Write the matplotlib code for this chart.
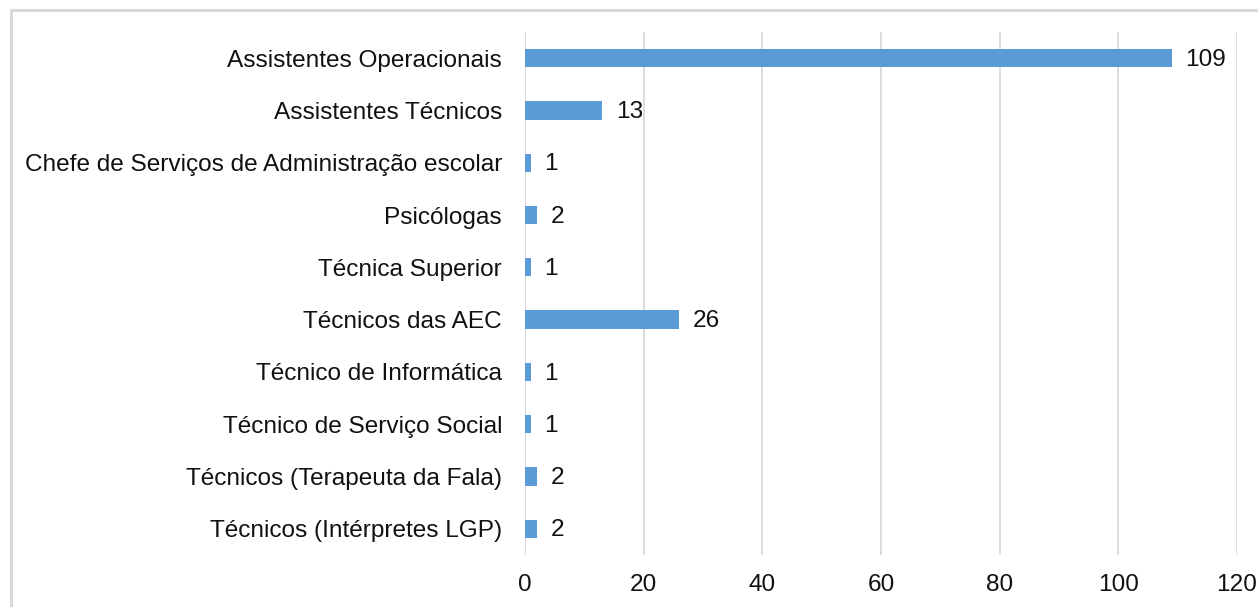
import matplotlib.pyplot as plt
from matplotlib.patches import Rectangle

# Categories and values (top to bottom)
categories = [
    "Assistentes Operacionais",
    "Assistentes Técnicos",
    "Chefe de Serviços de Administração escolar",
    "Psicólogas",
    "Técnica Superior",
    "Técnicos das AEC",
    "Técnico de Informática",
    "Técnico de Serviço Social",
    "Técnicos (Terapeuta da Fala)",
    "Técnicos (Intérpretes LGP)",
]
values = [109, 13, 1, 2, 1, 26, 1, 1, 2, 2]
x_ticks = [0, 20, 40, 60, 80, 100, 120]

plt.rcParams['font.family'] = ['Liberation Sans', 'DejaVu Sans']
fs = 17.6
txt = '#111111'

fig = plt.figure(figsize=(12.58, 6.07), dpi=100)
ax = fig.add_axes([0.4173, 0.0857, 0.566, 0.8616])

# Light gray frame around the chart area (cut off at right/bottom)
fig.patches.append(Rectangle((11 / 1258, -0.05), 1.2, 1 - 10 / 607 + 0.05,
                             transform=fig.transFigure, fill=False,
                             edgecolor='#D9D9D9', linewidth=2.2))

y_pos = list(range(len(categories)))
ax.barh(y_pos, values, height=0.35, color='#5B9BD5', zorder=3)

for y, v in zip(y_pos, values):
    ax.text(v + 2.3, y + 0.03, str(v), va='center', ha='left', fontsize=fs,
            color=txt)

ax.set_yticks(y_pos)
ax.set_yticklabels(categories, fontsize=fs, color=txt)
ax.set_ylim(len(categories) - 0.5, -0.5)
ax.set_xlim(0, 120)
ax.set_xticks(x_ticks)
ax.set_xticklabels([str(t) for t in x_ticks], fontsize=fs, color=txt)

ax.grid(axis='x', color='#D9D9D9', linewidth=1.3, zorder=0)
for s in ax.spines.values():
    s.set_visible(False)
ax.tick_params(axis='both', length=0)
ax.tick_params(axis='y', pad=16.5)
ax.tick_params(axis='x', pad=14)

fig.savefig('out.png', dpi=100)
